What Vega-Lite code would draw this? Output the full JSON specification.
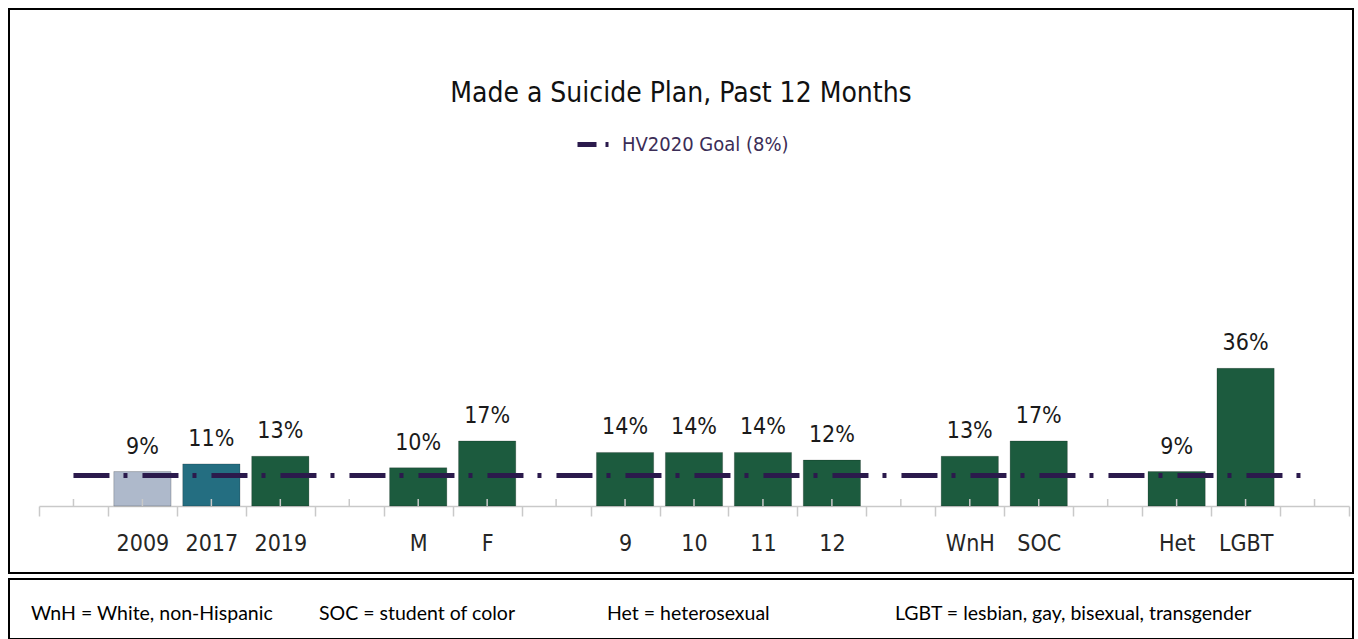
{
  "$schema": "https://vega.github.io/schema/vega-lite/v6.json",
  "background": "white",
  "padding": {"left": 8, "top": 8, "right": 6, "bottom": 0},
  "spacing": 4,
  "config": {"font": "Liberation Sans Narrow, DejaVu Sans Condensed, sans-serif"},
  "resolve": {"legend": {"stroke": "independent"}},
  "vconcat": [
    {
      "width": 1344,
      "height": 564,
      "view": {"stroke": "#000000", "strokeWidth": 2},
      "title": {
        "text": "Made a Suicide Plan, Past 12 Months",
        "offset": -99,
        "anchor": "middle",
        "frame": "group",
        "fontSize": 28,
        "fontWeight": "normal",
        "color": "#111111"
      },
      "layer": [
        {
          "data": {"name": "bars"},
          "transform": [{"filter": "isValid(datum.pct)"}],
          "mark": {"type": "bar", "width": {"band": 0.83}, "stroke": "#000000", "strokeOpacity": 0.2, "strokeWidth": 1},
          "encoding": {
            "x": {
              "field": "cat",
              "type": "nominal",
              "scale": {
                "domain": ["_0", "2009", "2017", "2019", "_4", "M", "F", "_7", "9", "10", "11", "12", "_12", "WnH", "SOC", "_15", "Het", "LGBT", "_18"],
                "range": [30, 1340],
                "paddingInner": 0,
                "paddingOuter": 0
              },
              "axis": {
                "title": null,
                "orient": "bottom",
                "offset": -67,
                "tickBand": "extent",
                "tickSize": 10,
                "tickColor": "#c9c9c9",
                "tickWidth": 1.5,
                "domainColor": "#c9c9c9",
                "domainWidth": 1.5,
                "grid": false,
                "labelAngle": 0,
                "labelExpr": "isValid(datum.label) && indexof('' + datum.label, '_') != 0 ? datum.label : ''",
                "labelFontSize": 23,
                "labelColor": "#262626",
                "labelPadding": 16
              }
            },
            "y": {
              "field": "pct",
              "type": "quantitative",
              "scale": {"domain": [-0.1753, 1.3], "nice": false, "zero": false},
              "axis": null
            },
            "y2": {"datum": 0},
            "fill": {
              "field": "grp",
              "type": "nominal",
              "scale": {
                "domain": ["2009", "2017", "2019", "Sex", "Grade", "Race", "Orientation"],
                "range": ["#aeb9cb", "#246e81", "#1c5b3e", "#1c5b3e", "#1c5b3e", "#1c5b3e", "#1c5b3e"]
              },
              "legend": null
            }
          }
        },
        {
          "data": {"name": "bars"},
          "mark": {"type": "rule", "stroke": "#c9c9c9", "strokeWidth": 1.5},
          "encoding": {
            "x": {"field": "cat", "type": "nominal"},
            "y": {"datum": 0},
            "y2": {"datum": 0.0183}
          }
        },
        {
          "data": {"values": [{"goal": 0.08, "name": "HV2020 Goal (8%)"}]},
          "mark": {"type": "rule", "strokeWidth": 5, "strokeDash": [36, 14, 4, 15]},
          "encoding": {
            "x": {"datum": "_0", "type": "nominal"},
            "x2": {"datum": "_18"},
            "y": {"field": "goal", "type": "quantitative"},
            "stroke": {
              "field": "name",
              "type": "nominal",
              "scale": {"range": ["#2b1a4c"]},
              "legend": {
                "title": null,
                "orient": "none",
                "legendX": 566,
                "legendY": 117,
                "symbolType": "stroke",
                "symbolSize": 1024,
                "symbolStrokeWidth": 5,
                "symbolDash": [19, 9, 3, 20],
                "labelFontSize": 20,
                "labelLimit": 400,
                "labelColor": "#3b2d56",
                "labelOffset": 10
              }
            }
          }
        },
        {
          "data": {"name": "bars"},
          "transform": [{"filter": "isValid(datum.pct)"}],
          "mark": {"type": "text", "baseline": "bottom", "dy": -13, "fontSize": 23, "color": "#1a1a1a"},
          "encoding": {
            "x": {"field": "cat", "type": "nominal"},
            "y": {"field": "pct", "type": "quantitative"},
            "text": {"field": "pct", "type": "quantitative", "format": ".0%"}
          }
        }
      ]
    },
    {
      "width": 1344,
      "height": 60,
      "view": {"stroke": "#000000", "strokeWidth": 2},
      "data": {"values": [
        {"term": "WnH = White, non-Hispanic"},
        {"term": "SOC = student of color"},
        {"term": "Het = heterosexual"},
        {"term": "LGBT = lesbian, gay, bisexual, transgender"}
      ]},
      "mark": {"type": "text", "align": "left", "font": "Lato", "fontSize": 19.5, "color": "#000000", "dy": 5},
      "encoding": {
        "x": {
          "field": "term",
          "type": "nominal",
          "sort": null,
          "scale": {"range": [-122, 1030], "paddingInner": 0, "paddingOuter": 0},
          "axis": null
        },
        "text": {"field": "term"}
      }
    }
  ],
  "datasets": {
    "bars": [
      {"cat": "_0", "grp": "none", "pct": null},
      {"cat": "2009", "grp": "2009", "pct": 0.09},
      {"cat": "2017", "grp": "2017", "pct": 0.11},
      {"cat": "2019", "grp": "2019", "pct": 0.13},
      {"cat": "_4", "grp": "none", "pct": null},
      {"cat": "M", "grp": "Sex", "pct": 0.10},
      {"cat": "F", "grp": "Sex", "pct": 0.17},
      {"cat": "_7", "grp": "none", "pct": null},
      {"cat": "9", "grp": "Grade", "pct": 0.14},
      {"cat": "10", "grp": "Grade", "pct": 0.14},
      {"cat": "11", "grp": "Grade", "pct": 0.14},
      {"cat": "12", "grp": "Grade", "pct": 0.12},
      {"cat": "_12", "grp": "none", "pct": null},
      {"cat": "WnH", "grp": "Race", "pct": 0.13},
      {"cat": "SOC", "grp": "Race", "pct": 0.17},
      {"cat": "_15", "grp": "none", "pct": null},
      {"cat": "Het", "grp": "Orientation", "pct": 0.09},
      {"cat": "LGBT", "grp": "Orientation", "pct": 0.36},
      {"cat": "_18", "grp": "none", "pct": null}
    ]
  }
}
